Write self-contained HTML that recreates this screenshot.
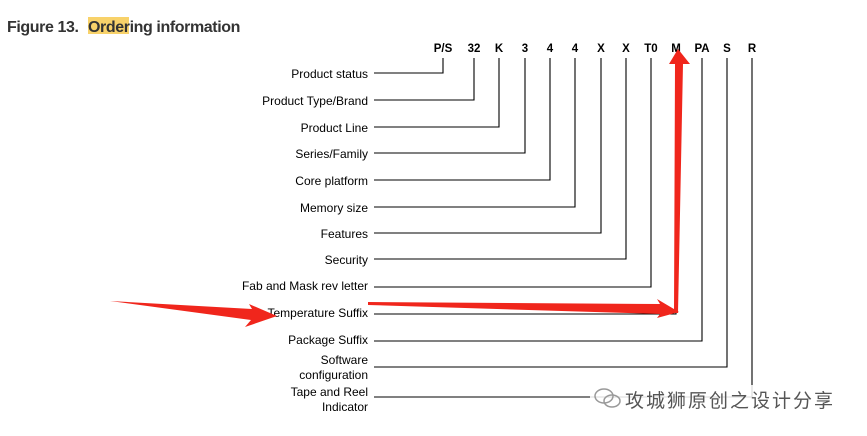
<!DOCTYPE html><html><head><style>
body{margin:0;background:#fff;width:867px;height:436px;overflow:hidden;font-family:"Liberation Sans",Arial,sans-serif}
</style></head><body>
<svg width="867" height="436" viewBox="0 0 867 436" xmlns="http://www.w3.org/2000/svg" style="position:absolute;left:0;top:0">
<rect x="88" y="17" width="41" height="17" fill="#f8d26a"/>
<text x="7" y="32" font-size="16" font-weight="bold" fill="#333" font-family="Liberation Sans,Arial,sans-serif" letter-spacing="-0.4">Figure 13.</text>
<text x="88" y="32" font-size="16" font-weight="bold" fill="#333" font-family="Liberation Sans,Arial,sans-serif" letter-spacing="-0.4">Ordering information</text>
<g font-size="11.5" font-weight="bold" fill="#000" text-anchor="middle" font-family="Liberation Sans,Arial,sans-serif">
<text x="443" y="52">P/S</text><text x="474" y="52">32</text><text x="499" y="52">K</text><text x="525" y="52">3</text><text x="550" y="52">4</text><text x="575" y="52">4</text><text x="601" y="52">X</text><text x="626" y="52">X</text><text x="651" y="52">T0</text><text x="676" y="52">M</text><text x="702" y="52">PA</text><text x="727" y="52">S</text><text x="752" y="52">R</text>
</g>
<g fill="none" stroke="#000" stroke-width="1.1">
<polyline points="374,73 443,73 443,58"/>
<polyline points="374,100 474,100 474,58"/>
<polyline points="374,127 499,127 499,58"/>
<polyline points="374,153 525,153 525,58"/>
<polyline points="374,180 550,180 550,58"/>
<polyline points="374,207 575,207 575,58"/>
<polyline points="374,233 601,233 601,58"/>
<polyline points="374,259 626,259 626,58"/>
<polyline points="374,287 651,287 651,58"/>
<polyline points="374,314 676,314 676,58"/>
<polyline points="374,341 702,341 702,58"/>
<polyline points="374,367 727,367 727,58"/>
<polyline points="374,397 752,397 752,58"/>
</g>
<g font-size="12" fill="#000" text-anchor="end" font-family="Liberation Sans,Arial,sans-serif">
<text x="368" y="78">Product status</text>
<text x="368" y="105">Product Type/Brand</text>
<text x="368" y="132">Product Line</text>
<text x="368" y="158">Series/Family</text>
<text x="368" y="185">Core platform</text>
<text x="368" y="212">Memory size</text>
<text x="368" y="238">Features</text>
<text x="368" y="264">Security</text>
<text x="368" y="290">Fab and Mask rev letter</text>
<text x="368" y="317">Temperature Suffix</text>
<text x="368" y="344">Package Suffix</text>
<text x="368" y="364">Software</text>
<text x="368" y="379">configuration</text>
<text x="368" y="396">Tape and Reel</text>
<text x="368" y="411">Indicator</text>
</g>
<g fill="#f0261c">
<polygon points="110,301 252,309 249,304 277,316 245,327 251,320"/>
<polygon points="368,302 660,304 657,299 679,312 657,318 660,314 368,305"/>
<polygon points="674,313 675,64 669,64 678,49 690,64 683,64 678,313"/>
</g>
<rect x="590" y="385" width="255" height="28" fill="#fff" opacity="0.85"/>
<g fill="none" stroke="#999" stroke-width="1.5"><ellipse cx="604" cy="396" rx="9" ry="7"/><ellipse cx="612" cy="401" rx="8" ry="6"/></g>
<text x="625" y="407" font-size="19" fill="#555" letter-spacing="2" font-family="Liberation Sans,'Noto Sans CJK SC',sans-serif">攻城狮原创之设计分享</text>
</svg>
</body></html>
